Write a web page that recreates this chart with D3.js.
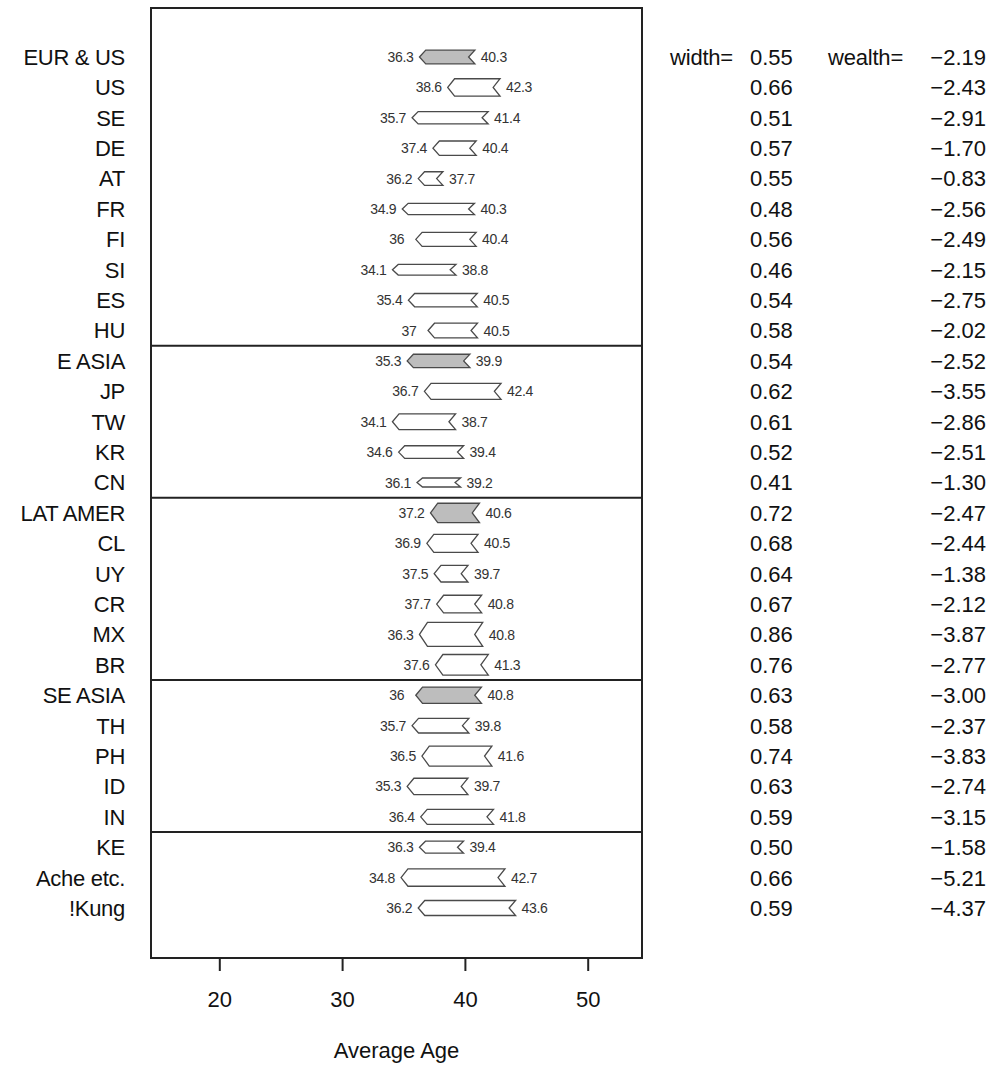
<!DOCTYPE html>
<html>
<head>
<meta charset="utf-8">
<script src="https://cdn.jsdelivr.net/npm/d3@7"></script>
<style>
  html, body { margin: 0; padding: 0; background: #fff; }
  svg { display: block; font-family: "Liberation Sans", Arial, Helvetica, sans-serif; }
</style>
</head>
<body>
<svg id="chart" width="994" height="1065"></svg>
<script>
const labels = ["EUR & US","US","SE","DE","AT","FR","FI","SI","ES","HU",
  "E ASIA","JP","TW","KR","CN",
  "LAT AMER","CL","UY","CR","MX","BR",
  "SE ASIA","TH","PH","ID","IN",
  "KE","Ache etc.","!Kung"];
const startAge = [36.3,38.6,35.7,37.4,36.2,34.9,36,34.1,35.4,37,
  35.3,36.7,34.1,34.6,36.1,
  37.2,36.9,37.5,37.7,36.3,37.6,
  36,35.7,36.5,35.3,36.4,
  36.3,34.8,36.2];
const endAge = [40.3,42.3,41.4,40.4,37.7,40.3,40.4,38.8,40.5,40.5,
  39.9,42.4,38.7,39.4,39.2,
  40.6,40.5,39.7,40.8,40.8,41.3,
  40.8,39.8,41.6,39.7,41.8,
  39.4,42.7,43.6];
const widthVals = ["0.55","0.66","0.51","0.57","0.55","0.48","0.56","0.46","0.54","0.58",
  "0.54","0.62","0.61","0.52","0.41",
  "0.72","0.68","0.64","0.67","0.86","0.76",
  "0.63","0.58","0.74","0.63","0.59",
  "0.50","0.66","0.59"];
const wealthVals = ["−2.19","−2.43","−2.91","−1.70","−0.83","−2.56","−2.49","−2.15","−2.75","−2.02",
  "−2.52","−3.55","−2.86","−2.51","−1.30",
  "−2.47","−2.44","−1.38","−2.12","−3.87","−2.77",
  "−3.00","−2.37","−3.83","−2.74","−3.15",
  "−1.58","−5.21","−4.37"];
const groupRows = ["EUR & US","E ASIA","LAT AMER","SE ASIA"];
const separatorsAfter = [9.5,14.5,20.5,25.5];
const xTicks = [20,30,40,50];

const svg = d3.select("#chart");
const pLeft = 151, pRight = 642, pTop = 8, pBottom = 958;

const x = d3.scaleLinear().domain([20,50]).range([219.3,587.7]);
const y = d3.scaleLinear().domain([0,28]).range([57,908]);
const h = d3.scaleLinear().domain([0.41,0.86]).range([9,24]);

const rows = labels.map((l,i)=>({label:l, a:startAge[i], b:endAge[i], w:+widthVals[i], ws:widthVals[i], we:wealthVals[i], i, group: groupRows.includes(l)}));

// Plot box
svg.append("rect").attr("x",pLeft).attr("y",pTop).attr("width",pRight-pLeft).attr("height",pBottom-pTop)
  .attr("fill","none").attr("stroke","#222").attr("stroke-width",2);

// separators
svg.selectAll("line.sep").data(separatorsAfter).enter().append("line")
  .attr("x1",pLeft).attr("x2",pRight).attr("y1",d=>y(d)).attr("y2",d=>y(d))
  .attr("stroke","#222").attr("stroke-width",2);

// arrows
function arrowPath(d){
  const x1 = x(d.a), x2 = x(d.b), cy = y(d.i), hh = h(d.w)/2;
  const dep = 4 + h(d.w)/6;
  return `M${x1},${cy} L${x1+dep},${cy-hh} L${x2+dep},${cy-hh} L${x2},${cy} L${x2+dep},${cy+hh} L${x1+dep},${cy+hh} Z`;
}
svg.selectAll("path.arrow").data(rows).enter().append("path")
  .attr("d",arrowPath)
  .attr("fill",d=>d.group?"#bdbdbd":"#fff")
  .attr("stroke","#4a4a4a").attr("stroke-width",1.3).attr("stroke-linejoin","miter");

// small labels
const fmt = v => String(v);
svg.selectAll("text.la").data(rows).enter().append("text")
  .attr("x",d=>x(d.a)-19).attr("y",d=>y(d.i)).attr("dy","0.36em")
  .attr("text-anchor","middle").attr("font-size",14).attr("letter-spacing","-0.3").attr("fill","#333")
  .text(d=>fmt(d.a));
svg.selectAll("text.lb").data(rows).enter().append("text")
  .attr("x",d=>x(d.b)+4+h(d.w)/6+19).attr("y",d=>y(d.i)).attr("dy","0.36em")
  .attr("text-anchor","middle").attr("font-size",14).attr("letter-spacing","-0.3").attr("fill","#333")
  .text(d=>fmt(d.b));

// row labels
svg.selectAll("text.rl").data(rows).enter().append("text")
  .attr("x",125).attr("y",d=>y(d.i)).attr("dy","0.36em")
  .attr("text-anchor","end").attr("font-size",22).attr("letter-spacing","-0.3").attr("fill","#111")
  .text(d=>d.label);

// width & wealth columns
svg.append("text").attr("x",670).attr("y",y(0)).attr("dy","0.36em")
  .attr("font-size",22).attr("letter-spacing","-0.2").attr("fill","#111").text("width=");
svg.append("text").attr("x",828).attr("y",y(0)).attr("dy","0.36em")
  .attr("font-size",22).attr("letter-spacing","-0.2").attr("fill","#111").text("wealth=");
svg.selectAll("text.wv").data(rows).enter().append("text")
  .attr("x",750).attr("y",d=>y(d.i)).attr("dy","0.36em")
  .attr("font-size",22).attr("fill","#111").text(d=>d.ws);
svg.selectAll("text.we").data(rows).enter().append("text")
  .attr("x",986).attr("y",d=>y(d.i)).attr("dy","0.36em").attr("text-anchor","end")
  .attr("font-size",22).attr("fill","#111").text(d=>d.we);

// x axis
const ax = svg.append("g").attr("transform",`translate(0,${pBottom})`)
  .call(d3.axisBottom(x).tickValues(xTicks).tickSize(13).tickPadding(20).tickFormat(d3.format("d")));
ax.select(".domain").remove();
ax.selectAll(".tick line").attr("stroke","#222").attr("stroke-width",2);
ax.selectAll(".tick text").attr("font-size",22).attr("fill","#111")
  .attr("font-family","Liberation Sans, Arial, sans-serif");

svg.append("text").attr("x",(pLeft+pRight)/2).attr("y",1050).attr("dy","0.36em")
  .attr("text-anchor","middle").attr("font-size",22).attr("fill","#111")
  .text("Average Age");
</script>
</body>
</html>
